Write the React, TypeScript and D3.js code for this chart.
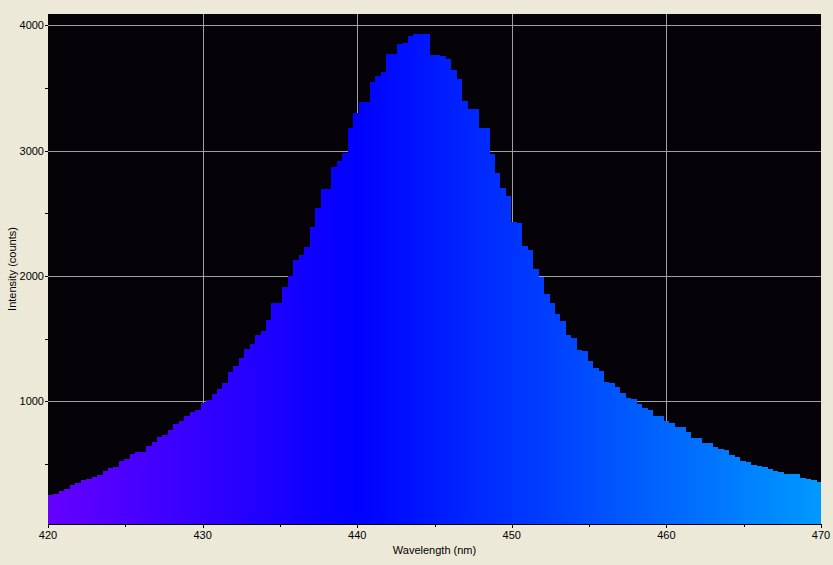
import React, { useEffect, useRef } from "react";
import * as d3 from "d3";

// spectrum bins (counts), one per detector bin from 420 nm
const counts = [
  252, 260, 284, 300, 332, 348, 372, 380, 396, 412,
  444, 468, 476, 523, 539, 579, 595, 595, 643, 675,
  715, 731, 771, 819, 843, 882, 914, 930, 986, 1010,
  1058, 1098, 1146, 1234, 1281, 1345, 1417, 1457, 1529, 1561,
  1648, 1784, 1784, 1912, 2000, 2127, 2167, 2231, 2391, 2542,
  2694, 2694, 2869, 2917, 2981, 3180, 3300, 3388, 3388, 3547,
  3595, 3627, 3771, 3771, 3851, 3859, 3914, 3930, 3930, 3930,
  3763, 3763, 3755, 3731, 3643, 3571, 3396, 3332, 3332, 3180,
  3180, 2973, 2821, 2702, 2638, 2430, 2422, 2239, 2207, 2055,
  1992, 1856, 1784, 1696, 1640, 1529, 1505, 1409, 1401, 1321,
  1265, 1242, 1154, 1146, 1114, 1066, 1026, 1018, 978, 946,
  930, 882, 882, 843, 827, 795, 795, 755, 707, 707,
  667, 667, 635, 619, 611, 571, 555, 523, 515, 492,
  484, 476, 460, 444, 436, 420, 420, 420, 388, 380,
  372, 356,
];
const binStart = 420;
const binWidth = 0.3526;

const xTicks = [420, 430, 440, 450, 460, 470];
const xMinor = [425, 435, 445, 455, 465];
const yTicks = [1000, 2000, 3000, 4000];
const yMinor = [500, 1500, 2500, 3500];

// spectral colour stops (nm -> colour)
const colorNm = [420, 440, 470];
const colorStops = ["#6600ff", "#0000ff", "#0099ff"];

const W = 833;
const H = 565;
const left = 48;
const right = 821;
const top = 14;
const bottom = 524;

const App: React.FC = () => {
  const ref = useRef<SVGSVGElement>(null);

  useEffect(() => {
    const svg = d3.select(ref.current);
    svg.selectAll("*").remove();

    const x = d3.scaleLinear().domain([420, 470]).range([left, right]);
    const y = d3.scaleLinear().domain([21, 4090]).range([bottom, top]);
    const color = d3.scaleLinear<string>().domain(colorNm).range(colorStops);

    svg.append("rect").attr("width", W).attr("height", H).attr("fill", "#ece9d8");

    const defs = svg.append("defs");
    defs.append("clipPath").attr("id", "plotclip")
      .append("rect")
      .attr("x", left).attr("y", top)
      .attr("width", right - left).attr("height", bottom - top);

    const grad = defs.append("linearGradient")
      .attr("id", "spec")
      .attr("gradientUnits", "userSpaceOnUse")
      .attr("x1", x(420)).attr("x2", x(470))
      .attr("y1", 0).attr("y2", 0);
    d3.range(420, 471, 2).forEach(nm => {
      grad.append("stop")
        .attr("offset", (nm - 420) / 50)
        .attr("stop-color", color(nm));
    });

    svg.append("rect")
      .attr("x", left).attr("y", top)
      .attr("width", right - left).attr("height", bottom - top)
      .attr("fill", "#050308");

    // grid
    const grid = svg.append("g").attr("stroke", "#a0a0a0").attr("stroke-width", 1)
      .attr("shape-rendering", "crispEdges");
    grid.selectAll("line.v").data(xTicks.slice(1, -1)).join("line")
      .attr("class", "v")
      .attr("x1", d => Math.round(x(d)) + 0.5).attr("x2", d => Math.round(x(d)) + 0.5)
      .attr("y1", top).attr("y2", bottom);
    grid.selectAll("line.h").data(yTicks).join("line")
      .attr("class", "h")
      .attr("y1", d => Math.round(y(d)) + 0.5).attr("y2", d => Math.round(y(d)) + 0.5)
      .attr("x1", left).attr("x2", right);

    // histogram as a step area
    const pts: [number, number][] = counts.map((c, i) => [binStart + i * binWidth, c]);
    pts.push([binStart + counts.length * binWidth, counts[counts.length - 1]]);
    const area = d3.area<[number, number]>()
      .x(d => x(d[0]))
      .y0(bottom)
      .y1(d => y(d[1]))
      .curve(d3.curveStepAfter);
    svg.append("path")
      .datum(pts)
      .attr("clip-path", "url(#plotclip)")
      .attr("fill", "url(#spec)")
      .attr("shape-rendering", "crispEdges")
      .attr("d", area);

    // axes
    const ax = svg.append("g").attr("stroke", "#000").attr("shape-rendering", "crispEdges");
    ax.append("line")
      .attr("x1", left).attr("x2", right + 1)
      .attr("y1", bottom + 0.5).attr("y2", bottom + 0.5);
    ax.selectAll("line.xt").data(xTicks).join("line")
      .attr("class", "xt")
      .attr("x1", d => Math.round(x(d)) + 0.5).attr("x2", d => Math.round(x(d)) + 0.5)
      .attr("y1", bottom).attr("y2", bottom + 4);
    ax.selectAll("line.xm").data(xMinor).join("line")
      .attr("class", "xm")
      .attr("x1", d => Math.round(x(d)) + 0.5).attr("x2", d => Math.round(x(d)) + 0.5)
      .attr("y1", bottom).attr("y2", bottom + 3);
    ax.selectAll("line.yt").data(yTicks.concat(yMinor)).join("line")
      .attr("class", "yt")
      .attr("y1", d => Math.round(y(d)) + 0.5).attr("y2", d => Math.round(y(d)) + 0.5)
      .attr("x1", left - 3).attr("x2", left);

    const font = "'Liberation Sans', Arial, sans-serif";
    svg.append("g").selectAll("text").data(xTicks).join("text")
      .attr("x", d => x(d)).attr("y", 539)
      .attr("text-anchor", "middle")
      .attr("font-family", font).attr("font-size", 11)
      .text(d => d);
    svg.append("g").selectAll("text").data(yTicks).join("text")
      .attr("x", 44).attr("y", d => y(d) + 4)
      .attr("text-anchor", "end")
      .attr("font-family", font).attr("font-size", 11)
      .text(d => d);

    svg.append("text")
      .attr("x", (left + right) / 2).attr("y", 554)
      .attr("text-anchor", "middle")
      .attr("font-family", font).attr("font-size", 11)
      .text("Wavelength (nm)");
    svg.append("text")
      .attr("transform", `translate(16, ${(top + bottom) / 2}) rotate(-90)`)
      .attr("text-anchor", "middle")
      .attr("font-family", font).attr("font-size", 11)
      .text("Intensity (counts)");
  }, []);

  return (
    <svg ref={ref} width={W} height={H}
      style={{ position: "absolute", left: 0, top: 0, display: "block" }} />
  );
};

export default App;
